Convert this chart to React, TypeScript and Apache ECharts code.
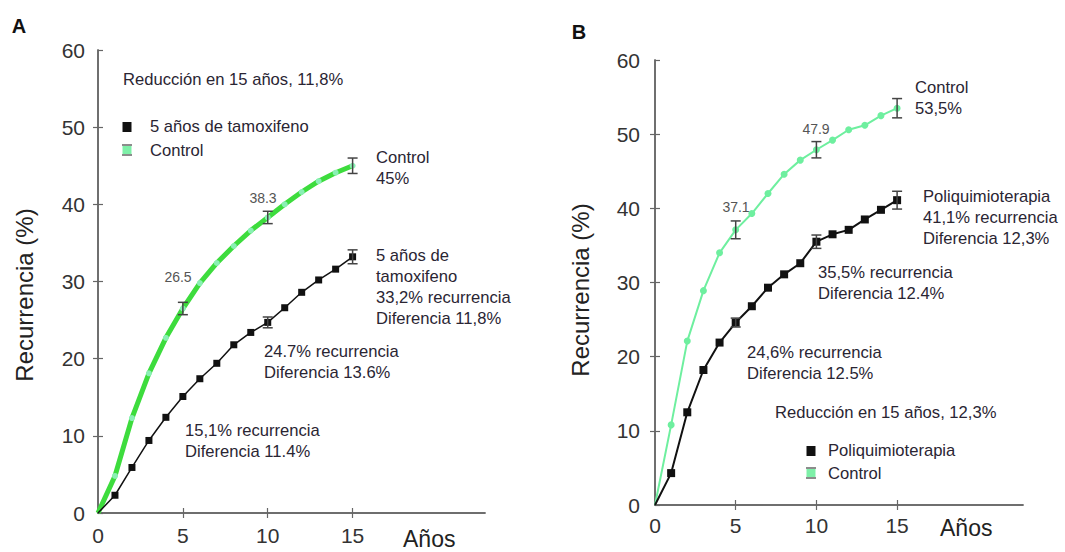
import React, { useEffect, useRef } from "react";
import * as echarts from "echarts";

// ---- data ----
const years = [0, 1, 2, 3, 4, 5, 6, 7, 8, 9, 10, 11, 12, 13, 14, 15];
const controlA = [0, 4.8, 12.3, 18.1, 22.7, 26.5, 29.8, 32.4, 34.6, 36.6, 38.3, 40.0, 41.6, 43.0, 44.1, 45.0];
const tamoxA = [0, 2.3, 5.9, 9.4, 12.4, 15.1, 17.4, 19.4, 21.8, 23.4, 24.7, 26.6, 28.6, 30.2, 31.6, 33.2];
const controlB = [0, 10.8, 22.1, 28.9, 34.0, 37.1, 39.3, 42.0, 44.6, 46.5, 47.9, 49.2, 50.6, 51.2, 52.5, 53.5];
const polyB = [0, 4.3, 12.5, 18.2, 21.9, 24.6, 26.8, 29.3, 31.1, 32.6, 35.5, 36.5, 37.1, 38.5, 39.8, 41.1];

const errYearsCtrlA = [5, 10, 15];
const errHalfCtrlA = [0.8, 0.8, 1.0];
const errYearsTamA = [10, 15];
const errHalfTamA = [0.7, 0.9];
const errYearsCtrlB = [5, 10, 15];
const errHalfCtrlB = [1.2, 1.1, 1.3];
const errYearsPolyB = [5, 10, 15];
const errHalfPolyB = [0.6, 0.9, 1.2];

const xTicks = [0, 5, 10, 15];
const yTicks = [0, 10, 20, 30, 40, 50, 60];

const FONT = "Liberation Sans, Arial, sans-serif";
const TXT = "#2a2533";

function lineData(vals: number[]) {
  return years.map((x, i) =>
    i === 0 ? { value: [x, vals[i]], symbol: "none" } : { value: [x, vals[i]] }
  );
}
function errData(xs: number[], centers: number[], half: number[]) {
  return xs.map((x, i) => {
    const c = centers[years.indexOf(x)];
    return [x, c - half[i], c + half[i]];
  });
}

const errRender = (params: any, api: any) => {
  const x = api.value(0);
  const lo = api.coord([x, api.value(1)]);
  const hi = api.coord([x, api.value(2)]);
  const w = 5;
  const style = { stroke: "#444", lineWidth: 1.5 };
  return {
    type: "group",
    children: [
      { type: "line", shape: { x1: lo[0], y1: lo[1], x2: hi[0], y2: hi[1] }, style },
      { type: "line", shape: { x1: lo[0] - w, y1: lo[1], x2: lo[0] + w, y2: lo[1] }, style },
      { type: "line", shape: { x1: hi[0] - w, y1: hi[1], x2: hi[0] + w, y2: hi[1] }, style },
    ],
  };
};

function axesFor(gridIndex: number, labelMarginX: number, labelMarginY: number) {
  const axisLine = { show: true, lineStyle: { color: "#666", width: 1.5 } };
  const tick = { show: true, inside: true, length: 5, lineStyle: { color: "#666", width: 1.2 } };
  const lbl = { color: "#333", fontSize: 21, fontFamily: FONT };
  const xa = [
    {
      type: "value", gridIndex, min: 0, max: 22.8, position: "bottom",
      axisLine, splitLine: { show: false },
      axisTick: { ...tick, customValues: xTicks },
      axisLabel: { ...lbl, margin: labelMarginX, customValues: xTicks },
    },
    {
      type: "value", gridIndex, min: 0, max: 22.8, position: "top",
      axisLine, splitLine: { show: false },
      axisTick: { ...tick, customValues: [5, 10, 15] },
      axisLabel: { show: false },
    },
  ];
  const ya = [
    {
      type: "value", gridIndex, min: 0, max: 60, interval: 10, position: "left",
      axisLine, splitLine: { show: false },
      axisTick: { ...tick, customValues: yTicks },
      axisLabel: { ...lbl, margin: labelMarginY, customValues: yTicks },
    },
    {
      type: "value", gridIndex, min: 0, max: 60, interval: 10, position: "right",
      axisLine, splitLine: { show: false },
      axisTick: { ...tick, customValues: [10, 20, 30, 40, 50] },
      axisLabel: { show: false },
    },
  ];
  return { xa, ya };
}

type Note = { text: string; x: number; y: number; size?: number; color?: string; align?: string; bold?: boolean };

const notes: Note[] = [
  { text: "Reducción en 15 años, 11,8%", x: 123, y: 80 },
  { text: "5 años de tamoxifeno", x: 150, y: 127 },
  { text: "Control", x: 150, y: 151 },
  { text: "Control\n45%", x: 376, y: 158 },
  { text: "5 años de\ntamoxifeno\n33,2% recurrencia\nDiferencia 11,8%", x: 376, y: 256 },
  { text: "24.7% recurrencia\nDiferencia 13.6%", x: 264, y: 352 },
  { text: "15,1% recurrencia\nDiferencia 11.4%", x: 185, y: 431 },
  { text: "38.3", x: 263, y: 198, size: 14, color: "#555", align: "center" },
  { text: "26.5", x: 178, y: 277, size: 14, color: "#555", align: "center" },
  { text: "Control\n53,5%", x: 915, y: 88 },
  { text: "Poliquimioterapia\n41,1% recurrencia\nDiferencia 12,3%", x: 923, y: 197 },
  { text: "35,5% recurrencia\nDiferencia 12.4%", x: 818, y: 273 },
  { text: "24,6% recurrencia\nDiferencia 12.5%", x: 747, y: 353 },
  { text: "Reducción en 15 años, 12,3%", x: 775, y: 413 },
  { text: "Poliquimioterapia", x: 828, y: 451 },
  { text: "Control", x: 828, y: 474 },
  { text: "37.1", x: 736, y: 207, size: 14, color: "#555", align: "center" },
  { text: "47.9", x: 816, y: 129, size: 14, color: "#555", align: "center" },
];

const LH = 20.7;

function legendSymbols(cx: number, cy1: number, cy2: number, green: string) {
  return [
    { type: "rect", z: 120, shape: { x: cx - 4.5, y: cy1 - 5, width: 9, height: 10 }, style: { fill: "#111" } },
    { type: "rect", z: 120, shape: { x: cx - 4.5, y: cy2 - 4, width: 9, height: 8 }, style: { fill: green } },
    { type: "line", z: 121, shape: { x1: cx - 5, y1: cy2 - 5, x2: cx + 5, y2: cy2 - 5 }, style: { stroke: "#666", lineWidth: 1.5 } },
    { type: "line", z: 121, shape: { x1: cx - 5, y1: cy2 + 5, x2: cx + 5, y2: cy2 + 5 }, style: { stroke: "#666", lineWidth: 1.5 } },
  ];
}

export default function App() {
  const ref = useRef<HTMLDivElement>(null);
  useEffect(() => {
    document.body.style.margin = "0";
    if (!ref.current) return;
    const chart = echarts.init(ref.current, null, { renderer: "svg" });
    const a = axesFor(0, 12, 13);
    const b = axesFor(1, 10, 15);

    const textEls = notes.map((n) => ({
      type: "text",
      z: 130,
      x: n.x,
      y: n.y - LH / 2,
      style: {
        text: n.text,
        fill: n.color || TXT,
        font: `${n.bold ? "bold " : ""}${n.size || 16.6}px ${FONT}`,
        textAlign: n.align || "left",
        textVerticalAlign: "top",
        lineHeight: LH,
      },
    }));

    const graphic: any[] = [
      // white patches that hide the frame behind the side notes
      { type: "rect", z: 110, shape: { x: 368, y: 237, width: 150, height: 94 }, style: { fill: "#fff" } },
      { type: "rect", z: 110, shape: { x: 916, y: 158, width: 149, height: 92 }, style: { fill: "#fff" } },
      ...legendSymbols(127, 127, 150, "#7ef0a8"),
      ...legendSymbols(811, 451, 473, "#7ef0a8"),
      ...textEls,
      { type: "text", z: 130, x: 19, y: 26, style: { text: "A", font: `bold 20px ${FONT}`, fill: "#111", textAlign: "center", textVerticalAlign: "middle" } },
      { type: "text", z: 130, x: 579, y: 32, style: { text: "B", font: `bold 20px ${FONT}`, fill: "#111", textAlign: "center", textVerticalAlign: "middle" } },
      { type: "text", z: 130, x: 24, y: 295, rotation: Math.PI / 2, style: { text: "Recurrencia (%)", font: `24px ${FONT}`, fill: "#222", textAlign: "center", textVerticalAlign: "middle" } },
      { type: "text", z: 130, x: 580, y: 290, rotation: Math.PI / 2, style: { text: "Recurrencia (%)", font: `24px ${FONT}`, fill: "#222", textAlign: "center", textVerticalAlign: "middle" } },
      { type: "text", z: 130, x: 403, y: 539, style: { text: "Años", font: `23px ${FONT}`, fill: "#222", textAlign: "left", textVerticalAlign: "middle" } },
      { type: "text", z: 130, x: 940, y: 528, style: { text: "Años", font: `23px ${FONT}`, fill: "#222", textAlign: "left", textVerticalAlign: "middle" } },
    ];

    chart.setOption({
      animation: false,
      grid: [
        { left: 98, top: 50, width: 387, height: 463 },
        { left: 655, top: 60, width: 368, height: 445 },
      ],
      xAxis: [...a.xa, ...b.xa],
      yAxis: [...a.ya, ...b.ya],
      series: [
        {
          type: "line", xAxisIndex: 0, yAxisIndex: 0, data: lineData(controlA),
          lineStyle: { color: "#3ddc3d", width: 5 }, itemStyle: { color: "#8af0b4" },
          symbol: "circle", symbolSize: 6, z: 3,
        },
        {
          type: "line", xAxisIndex: 0, yAxisIndex: 0, data: lineData(tamoxA),
          lineStyle: { color: "#111", width: 1.5 }, itemStyle: { color: "#111" },
          symbol: "rect", symbolSize: 7, z: 3,
        },
        {
          type: "custom", xAxisIndex: 0, yAxisIndex: 0, renderItem: errRender,
          data: errData(errYearsCtrlA, controlA, errHalfCtrlA), encode: { x: 0, y: [1, 2] }, z: 5,
        },
        {
          type: "custom", xAxisIndex: 0, yAxisIndex: 0, renderItem: errRender,
          data: errData(errYearsTamA, tamoxA, errHalfTamA), encode: { x: 0, y: [1, 2] }, z: 5,
        },
        {
          type: "line", xAxisIndex: 2, yAxisIndex: 2, data: lineData(controlB),
          lineStyle: { color: "#6eef9f", width: 2 }, itemStyle: { color: "#6eef9f" },
          symbol: "circle", symbolSize: 7, z: 3,
        },
        {
          type: "line", xAxisIndex: 2, yAxisIndex: 2, data: lineData(polyB),
          lineStyle: { color: "#111", width: 2 }, itemStyle: { color: "#111" },
          symbol: "rect", symbolSize: 8, z: 3,
        },
        {
          type: "custom", xAxisIndex: 2, yAxisIndex: 2, renderItem: errRender,
          data: errData(errYearsCtrlB, controlB, errHalfCtrlB), encode: { x: 0, y: [1, 2] }, z: 5,
        },
        {
          type: "custom", xAxisIndex: 2, yAxisIndex: 2, renderItem: errRender,
          data: errData(errYearsPolyB, polyB, errHalfPolyB), encode: { x: 0, y: [1, 2] }, z: 5,
        },
      ],
      graphic,
    });
    return () => chart.dispose();
  }, []);
  return <div ref={ref} style={{ width: 1065, height: 552 }} />;
}
